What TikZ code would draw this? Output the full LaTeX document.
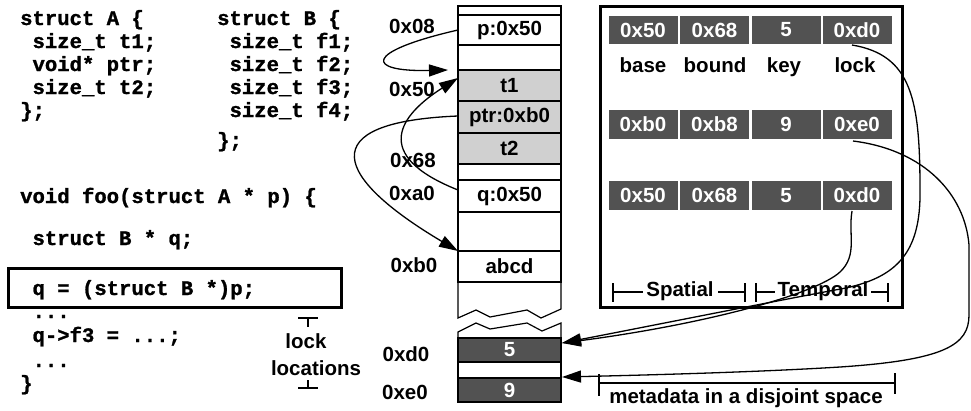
\documentclass[tikz,border=0pt]{standalone}
\usepackage{fontspec}
\setmainfont{Liberation Sans}
\newfontfamily\codefont{Liberation Mono}[BoldFeatures={FakeBold=1.2}]
\usetikzlibrary{arrows.meta}
\definecolor{darkcell}{RGB}{82,82,82}
\definecolor{lightcell}{RGB}{208,208,208}
\tikzset{
  code/.style={anchor=base west, inner sep=0pt, font=\codefont\fontsize{20.6}{23}\selectfont\bfseries},
  lbl/.style={inner sep=0pt, font=\fontsize{20.5}{23}\selectfont\bfseries},
  memline/.style={line width=1.2pt},
  mem/.style={draw, memline, minimum width=103pt, inner sep=0pt, lbl},
  cell/.style={fill=darkcell, text=white, minimum width=69pt, inner sep=0pt, lbl},
  tick/.style={line width=1.2pt},
  conn/.style={line width=1.3pt, -{Triangle[length=19pt,width=12pt]}},
  link/.style={line width=1.3pt}
}
\begin{document}
\begin{tikzpicture}[x=1pt,y=-1pt]
\useasboundingbox (0,0) rectangle (971,410);

% ---- code ----
\node[code] (a1) at (20,25) {struct A \{};
\node[code] (a2) at (20,48) {\phantom{x}size\_t t1;};
\node[code] (a3) at (20,71) {\phantom{x}void* ptr;};
\node[code] (a4) at (20,94) {\phantom{x}size\_t t2;};
\node[code] (a5) at (20,117) {\};};
\node[code] (b1) at (217,25) {struct B \{};
\node[code] (b2) at (217,48) {\phantom{x}size\_t f1;};
\node[code] (b3) at (217,71) {\phantom{x}size\_t f2;};
\node[code] (b4) at (217,94) {\phantom{x}size\_t f3;};
\node[code] (b5) at (217,117) {\phantom{x}size\_t f4;};
\node[code] (b6) at (217,147) {\};};
\node[code] (f1) at (20,203) {void foo(struct A * p) \{};
\node[code] (f2) at (20,245) {\phantom{x}struct B * q;};
\node[code] (f3) at (20,295) {\phantom{x}q = (struct B *)p;};
\node[code] (f4) at (20,318) {\phantom{x}...};
\node[code] (f5) at (20,342) {\phantom{x}q->f3 = ...;};
\node[code] (f6) at (20,367) {\phantom{x}...};
\node[code] (f7) at (20,390) {\}};
\draw[line width=3pt] (8,268) rectangle (341,307);

% lock locations
\node[lbl, anchor=base] (lk1) at (306,348) {lock};
\node[lbl, anchor=base] (lk2) at (316,375) {locations};
\draw[tick] (298,318) -- (318,318) (308,318) -- (308,327);
\draw[tick] (308,380) -- (308,388) (298,388) -- (318,388);

% ---- memory column ----
\node[mem, minimum height=9pt]  (m0) at (509.5,10.5) {};
\node[mem, minimum height=30pt] (mp) at (509.5,30) {p:0x50};
\node[mem, minimum height=25pt] (me1) at (509.5,57.5) {};
\node[mem, fill=lightcell, minimum height=31pt] (mt1) at (509.5,85.5) {t1};
\node[mem, fill=lightcell, minimum height=32pt] (mptr) at (509.5,117) {ptr:0xb0};
\node[mem, fill=lightcell, minimum height=31pt] (mt2) at (509.5,148.5) {t2};
\node[mem, minimum height=16pt] (me2) at (509.5,172) {};
\node[mem, minimum height=32pt] (mq) at (509.5,196) {q:0x50};
\node[mem, minimum height=39pt] (me3) at (509.5,231.5) {};
\node[mem, minimum height=31pt] (mab) at (509.5,266.5) {abcd};
\draw[memline] (458,282) -- (458,318) -- (476,310) -- (490,317) -- (527,310) -- (541,318) -- (561,309) -- (561,282);
\draw[memline] (458,338) -- (458,332) -- (476,323) -- (490,329) -- (527,323) -- (542,331) -- (561,323) -- (561,338);
\node[mem, fill=darkcell, text=white, minimum height=24pt] (m5) at (509.5,350) {5};
\node[mem, minimum height=16pt] (me4) at (509.5,370) {};
\node[mem, fill=darkcell, text=white, minimum height=24pt] (m9) at (509.5,390) {9};

% addresses
\node[lbl] (ad1) at (412,26) {0x08};
\node[lbl] (ad2) at (412,89) {0x50};
\node[lbl] (ad3) at (413,160) {0x68};
\node[lbl] (ad4) at (412,193) {0xa0};
\node[lbl] (ad5) at (414,265) {0xb0};
\node[lbl] (ad6) at (406,354) {0xd0};
\node[lbl] (ad7) at (405,392) {0xe0};

% ---- metadata box ----
\draw[line width=3pt] (600,6) rectangle (902,307);
\node[cell, minimum height=28pt] (r1a) at (643,30) {0x50};
\node[cell, minimum height=28pt] (r1b) at (714.5,30) {0x68};
\node[cell, minimum height=28pt] (r1c) at (786,30) {5};
\node[cell, minimum height=28pt] (r1d) at (857,30) {0xd0};
\node[lbl, anchor=base] (hb) at (643,72) {base};
\node[lbl, anchor=base] (hbd) at (715,72) {bound};
\node[lbl, anchor=base] (hk) at (784,72) {key};
\node[lbl, anchor=base] (hl) at (855,72) {lock};
\node[cell, minimum height=29pt] (r2a) at (643,124.5) {0xb0};
\node[cell, minimum height=29pt] (r2b) at (714.5,124.5) {0xb8};
\node[cell, minimum height=29pt] (r2c) at (786,124.5) {9};
\node[cell, minimum height=29pt] (r2d) at (857,124.5) {0xe0};
\node[cell, minimum height=29pt] (r3a) at (643,195.5) {0x50};
\node[cell, minimum height=29pt] (r3b) at (714.5,195.5) {0x68};
\node[cell, minimum height=29pt] (r3c) at (786,195.5) {5};
\node[cell, minimum height=29pt] (r3d) at (857,195.5) {0xd0};

% Spatial / Temporal brackets
\node[lbl, anchor=base] (sp) at (680,296) {Spatial};
\node[lbl, anchor=base] (tp) at (823,296) {Temporal};
\draw[tick] (613,283) -- (613,302) (613,292) -- (643,292);
\draw[tick] (718,292) -- (745,292) (745,283) -- (745,302);
\draw[tick] (756,283) -- (756,302) (756,292) -- (775,292);
\draw[tick] (871,292) -- (888,292) (888,283) -- (888,302);

% metadata bracket
\draw[tick] (599,374) -- (599,396) (599,383) -- (895,383) (895,373) -- (895,394);
\node[lbl, anchor=base] (md) at (746,403) {metadata in a disjoint space};

% ---- connectors ----
\coordinate (pS) at (458,30);
\coordinate (t1A) at (448,70);
\coordinate (qS) at (458,190);
\coordinate (t1B) at (458,78);
\coordinate (ptrS) at (458,116);
\coordinate (abT) at (458,251);
\coordinate (dS) at (852,45);
\coordinate (eS) at (852,211);
\coordinate (fS) at (853,141);
\coordinate (tip5) at (562,343);
\coordinate (tip9) at (562,377);

\draw[conn] (pS) .. controls (362,52) and (366,72) .. (t1A);
\draw[conn] (qS) .. controls (370,155) and (400,115) .. (t1B);
\draw[conn] (ptrS) .. controls (310,122) and (335,178) .. (abT);
\draw[conn] (dS) .. controls (912,55) and (920,100) .. (920,190)
  .. controls (921,255) and (895,280) .. (835,290)
  .. controls (760,304) and (650,326) .. (tip5);
\draw[conn] (eS) .. controls (848,235) and (858,255) .. (840,272)
  .. controls (815,295) and (700,325) .. (tip5);
\draw[conn] (fS) .. controls (925,150) and (965,195) .. (969,245)
  -- (969,315) .. controls (969,345) and (945,360) .. (840,367)
  .. controls (760,372) and (650,375) .. (tip9);
\end{tikzpicture}
\end{document}
